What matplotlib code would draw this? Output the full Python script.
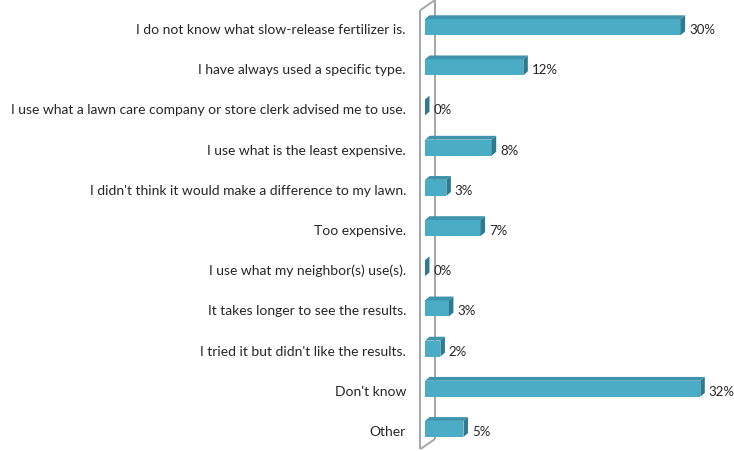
import matplotlib.pyplot as plt
from matplotlib.patches import Polygon

categories = [
    "I do not know what slow-release fertilizer is.",
    "I have always used a specific type.",
    "I use what a lawn care company or store clerk advised me to use.",
    "I use what is the least expensive.",
    "I didn't think it would make a difference to my lawn.",
    "Too expensive.",
    "I use what my neighbor(s) use(s).",
    "It takes longer to see the results.",
    "I tried it but didn't like the results.",
    "Don't know",
    "Other",
]
values = [29.9, 11.5, 0, 7.8, 2.5, 6.5, 0, 2.8, 1.8, 32.2, 4.5]
value_labels = ["30%", "12%", "0%", "8%", "3%", "7%", "0%", "3%", "2%", "32%", "5%"]

W, H = 734, 451
fig = plt.figure(figsize=(W / 100, H / 100), dpi=100)
plt.rcParams['font.family'] = ['Lato', 'DejaVu Sans']

# axes placed in pixel terms: x from 425 to 734, y from 7 to 449 (top-down)
ax_left, ax_right, ax_top, ax_bot = 425, 734, 7, 449
ax = fig.add_axes([ax_left / W, 1 - ax_bot / H, (ax_right - ax_left) / W, (ax_bot - ax_top) / H])
px_per_unit = 8.55
ax.set_xlim(0, (ax_right - ax_left) / px_per_unit)
n = len(categories)
ax.set_ylim(n - 0.5, -0.5)
ax.axis('off')

py = n / (ax_bot - ax_top)   # data units per pixel, vertical
px = 1 / px_per_unit         # data units per pixel, horizontal
dx, dy = 4.5 * px, 3.8 * py
half = 8 * py

front = "#4BACC6"
top = "#3F93AB"
side = "#2F7A8F"

# wall
wall = "#A6A6A6"
def to_data(xp, yp):
    return (xp - ax_left) * px, (yp - ax_top) * py - 0.5

for seg in [((420.5, 10), (420.5, 449)), ((420.5, 10), (435, 0)), ((435, -2), (435, 439)),
            ((420.5, 449), (435, 439))]:
    (x0, y0), (x1, y1) = to_data(*seg[0]), to_data(*seg[1])
    ax.plot([x0, x1], [y0, y1], color=wall, lw=1.4, clip_on=False, solid_capstyle='butt', zorder=1)

for i, (v, lab) in enumerate(zip(values, value_labels)):
    yt, yb = i - half, i + half
    ax.add_patch(Polygon([(0, yt), (v, yt), (v, yb), (0, yb)], closed=True,
                         facecolor=front, edgecolor='none', zorder=3, clip_on=False))
    ax.add_patch(Polygon([(0, yt), (dx, yt - dy), (v + dx, yt - dy), (v, yt)], closed=True,
                         facecolor=top, edgecolor='none', zorder=3, clip_on=False))
    ax.add_patch(Polygon([(v, yt), (v + dx, yt - dy), (v + dx, yb - dy), (v, yb)], closed=True,
                         facecolor=side, edgecolor='none', zorder=3, clip_on=False))
    ax.text(v + dx + 4 * px, i + 3 * py, lab, ha='left', va='center', fontsize=9.5,
            color='#262626', clip_on=False)
    ax.text(-19 * px, i + 3 * py, categories[i], ha='right', va='center', fontsize=10,
            color='#262626', clip_on=False)

fig.savefig("out.png", dpi=100)
